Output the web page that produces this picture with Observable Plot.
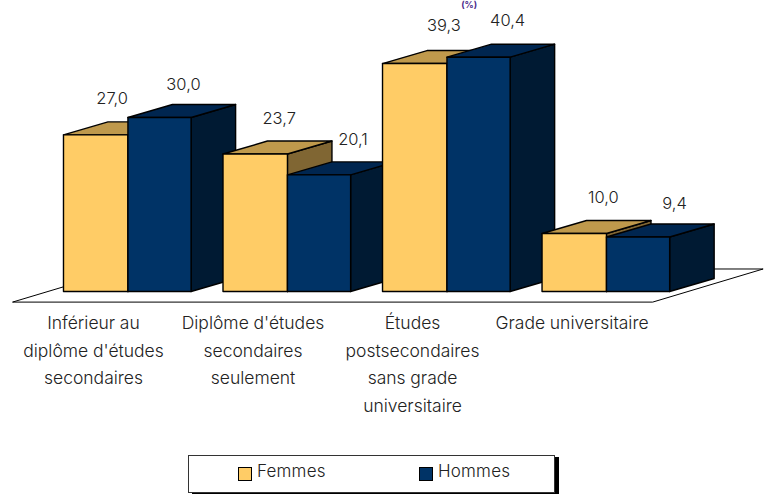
<!DOCTYPE html>
<html lang="fr">
<head>
<meta charset="utf-8">
<script src="https://cdn.jsdelivr.net/npm/d3@7"></script>
<script src="https://cdn.jsdelivr.net/npm/@observablehq/plot@0.6"></script>
<style>
  html, body { margin: 0; padding: 0; background: #fff; }
  body { width: 766px; height: 494px; overflow: hidden; font-family: "Inter", sans-serif; font-weight: 300; color: #222; }
  svg { display: block; }
  #legend { position: relative; box-sizing: border-box; width: 367px; height: 38px; margin: 10px 0 0 188px;
    background: #fff; border: 1px solid #333; box-shadow: 4px 2px 0 #000; font-size: 17px; }
  .entry { position: absolute; top: 5px; line-height: 20px; letter-spacing: 0.2px; white-space: nowrap; }
  .swatch { position: absolute; left: -19px; top: 6px; width: 12px; height: 12px; border: 1px solid #000; }
</style>
</head>
<body>
<div id="chart"></div>
<div id="legend"></div>
<script>
const categories = [
  "Inférieur au\ndiplôme d'études\nsecondaires",
  "Diplôme d'études\nsecondaires\nseulement",
  "Études\npostsecondaires\nsans grade\nuniversitaire",
  "Grade universitaire"
];
const series = ["Femmes", "Hommes"];
const femmes = [27.0, 23.7, 39.3, 10.0];
const hommes = [30.0, 20.1, 40.4, 9.4];
const partialTitle = "(%)";

const colors = {
  Femmes: {front: "#ffcc66", top: "#bf994c", side: "#806633"},
  Hommes: {front: "#003366", top: "#002650", side: "#001a33"}
};

// Layout, in scale units (x: one unit per category group, y: percent)
const barEdges = [0, 0.404, 0.8], depthX = 0.279, depthY = 2.24;
const floor = {xFront: [-0.317, 3.696], yFront: -1.81, yBack: 3.88, shift: 0.69};
const labelShiftX = [[0.10, 0.147], [0.147, 0.21], [0.18, 0.179], [0.179, 0.226]];
const labelShiftY = [[4.0, 3.5], [3.9, 4.0], [4.3, 4.2], [4.1, 3.6]];
const tickOffset = 0.185;

const bars = categories.flatMap((c, i) => [femmes[i], hommes[i]].map((value, s) => ({
  group: i, s, key: series[s], value, x0: i + barEdges[s], x1: i + barEdges[s + 1]
})));

const edge = {stroke: "#000", strokeWidth: 1.4, strokeLinejoin: "round"};
const barMarks = bars.flatMap(b => {
  const c = colors[b.key];
  return [
    Plot.area([{x: b.x1, y1: 0, y2: b.value}, {x: b.x1 + depthX, y1: depthY, y2: b.value + depthY}],
      {x1: "x", y1: "y1", y2: "y2", fill: c.side, ...edge}),
    Plot.area([{y: b.value, x1: b.x0, x2: b.x1}, {y: b.value + depthY, x1: b.x0 + depthX, x2: b.x1 + depthX}],
      {y1: "y", x1: "x1", x2: "x2", fill: c.top, ...edge}),
    Plot.rect([b], {x1: "x0", x2: "x1", y1: 0, y2: "value", fill: c.front, ...edge})
  ];
});

const ticks = categories.map((c, i) => i + tickOffset);

const plot = Plot.plot({
  width: 766,
  height: 445,
  marginTop: 0, marginRight: 0, marginBottom: 140, marginLeft: 0,
  x: {domain: [-0.398, 4.404], axis: null},
  y: {domain: [-2.33, 50.26], axis: null},
  style: {fontFamily: "Inter, sans-serif", fontWeight: 300, background: "#fff", color: "#222"},
  marks: [
    Plot.area([
      {y: floor.yFront, x1: floor.xFront[0], x2: floor.xFront[1]},
      {y: floor.yBack, x1: floor.xFront[0] + floor.shift, x2: floor.xFront[1] + floor.shift}
    ], {y1: "y", x1: "x1", x2: "x2", fill: "#fff", stroke: "#000", strokeWidth: 1}),
    ...barMarks,
    Plot.text(bars, {
      x: b => (b.x0 + b.x1) / 2 + labelShiftX[b.group][b.s],
      y: b => b.value + depthY + labelShiftY[b.group][b.s],
      text: b => b.value.toFixed(1).replace(".", ","),
      fontSize: 16.5, fill: "#222"
    }),
    Plot.axisX(ticks, {
      anchor: "bottom", tickSize: 0, tickPadding: 4, label: null,
      tickFormat: t => categories[Math.round(t - tickOffset)],
      fontSize: 17.5, lineHeight: 1.58, fill: "#222", letterSpacing: 1.45
    }),
    Plot.text([partialTitle], {
      x: [2.54], y: [50.26], dy: 1, text: d => d, lineAnchor: "top",
      fontSize: 9, fontWeight: "bold", fill: "#4b2a8c"
    })
  ]
});
document.getElementById("chart").appendChild(plot);

const legend = d3.select("#legend");
[["Femmes", 68], ["Hommes", 249]].forEach(([name, left]) => {
  const e = legend.append("div").attr("class", "entry").style("left", left + "px").text(name);
  e.append("span").attr("class", "swatch").style("background", colors[name].front);
});
</script>
</body>
</html>
